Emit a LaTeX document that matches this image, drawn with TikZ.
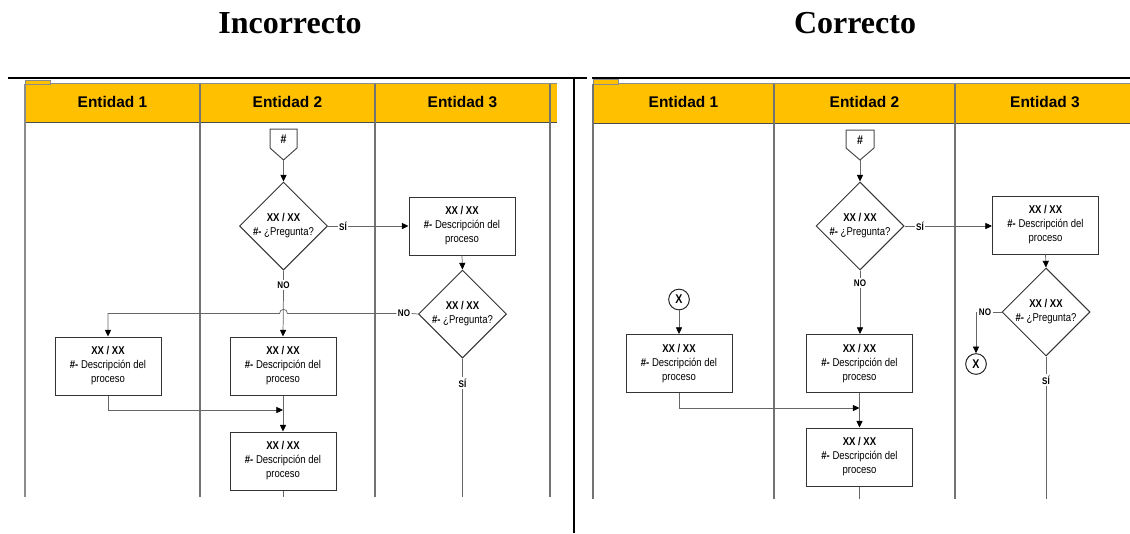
\documentclass[tikz,border=0pt]{standalone}
\usepackage{fontspec}
\setmainfont{Liberation Serif}
\newfontfamily\hdrfont{Liberation Sans}
\newfontfamily\narfont[FakeStretch=0.84]{Liberation Sans}
\usetikzlibrary{shapes.geometric,arrows.meta}
\definecolor{lanegold}{HTML}{FFC000}
\tikzset{
  lanebar/.style={draw=black!55, line width=0.9pt},
  proc/.style={rectangle, draw=black!80, line width=0.75pt, fill=white,
    minimum width=79.5pt, minimum height=43.5pt, inner sep=0pt, align=center,
    font=\narfont\fontsize{8.5}{10.5}\selectfont},
  dec/.style={diamond, draw=black!80, line width=0.75pt, fill=white,
    minimum size=66pt, inner sep=0pt, aspect=1},
  dtext/.style={align=center, inner sep=0pt, font=\narfont\fontsize{8.5}{10.5}\selectfont},
  conn/.style={circle, draw=black!85, line width=0.75pt, fill=white,
    minimum size=15.5pt, inner sep=0pt, font=\narfont\bfseries\fontsize{9.5}{10}\selectfont},
  lbl/.style={inner sep=1pt, font=\narfont\bfseries\fontsize{7.2}{8}\selectfont},
  flow/.style={draw=black!60, line width=0.55pt},
  flowar/.style={flow, -{Triangle[length=5pt,width=4.6pt,color=black]}},
  hdr/.style={font=\hdrfont\bfseries\fontsize{11.6}{13}\selectfont},
  ttl/.style={font=\bfseries\fontsize{24}{28}\selectfont},
}
\begin{document}
\begin{tikzpicture}[x=0.75pt,y=-0.75pt]
\useasboundingbox (0,0) rectangle (1130,533);

% titles
\node[ttl] (t1) at (290,23.5) {Incorrecto};
\node[ttl] (t2) at (855,23.5) {Correcto};

% frame lines
\draw[line width=1.5pt] (8,78) -- (587,78);
\draw[line width=1.1pt] (592,78) -- (1130,78);
\draw[line width=1.2pt] (574,78) -- (574,533);

% ---------- left swimlane ----------
\fill[lanegold] (25,84) rectangle (557,122);
\filldraw[fill=lanegold, draw=black!45, line width=0.4pt] (25,80) rectangle (50,84);
\draw[black!45, line width=0.5pt] (50,83.5) -- (557,83.5);
\draw[black!70, line width=0.6pt] (25,122) -- (557,122);
\draw[lanebar, draw=black!45] (25,84) -- (25,497);
\foreach \xx in {200,375,550} \draw[lanebar] (\xx,84) -- (\xx,497);
\node[hdr] (h1) at (112.5,102) {Entidad 1};
\node[hdr] (h2) at (287.5,102) {Entidad 2};
\node[hdr] (h3) at (462.5,102) {Entidad 3};

% off-page marker
\node[font=\narfont\bfseries\fontsize{9.5}{10}\selectfont, inner sep=0pt] (p1) at (283.5,139.5) {\#};
\draw[draw=black!70, line width=0.75pt] (270,129) -- (297,129) -- (297,148) -- (283.5,160) -- (270,148) -- cycle;
\coordinate (p1tip) at (283.5,160);

\node[dec] (d1) at (283.5,226) {};
\node[dtext] (d1t) at (d1) {\textbf{XX / XX}\\\textbf{\#-} ¿Pregunta?};
\node[proc] (b4) at (462,226) {\textbf{XX / XX}\\\textbf{\#-} Descripción del\\proceso};
\node[dec] (d2) at (462.5,314) {};
\node[dtext] (d2t) at (d2) {\textbf{XX / XX}\\\textbf{\#-} ¿Pregunta?};
\node[proc] (b1) at (108,366) {\textbf{XX / XX}\\\textbf{\#-} Descripción del\\proceso};
\node[proc] (b2) at (283,366) {\textbf{XX / XX}\\\textbf{\#-} Descripción del\\proceso};
\node[proc] (b3) at (283,461) {\textbf{XX / XX}\\\textbf{\#-} Descripción del\\proceso};

\node[lbl] (si1) at (343,226) {SÍ};
\node[lbl] (no1) at (283.5,285) {NO};
\node[lbl] (no2) at (404,313.5) {NO};
\node[lbl] (si2) at (462.5,383) {SÍ};
\coordinate (m1) at (283,410);
\coordinate (end1) at (283,497);
\coordinate (end2) at (462.5,497);

\draw[flowar] (p1tip) -- (d1.north);
\draw[flow] (d1.east) -- (si1.west);
\draw[flowar] (si1.east) -- (si1.east -| b4.west);
\draw[flowar] (b4.south) -- (d2.north);
\draw[flow] (d1.south) -- (no1.north);
\draw[flowar] (no1.south) -- (b2.north);
\draw[flow] (d2.west) -- (no2.east);
\draw[flowar] (no2.west) -- (287.5,313.5) .. controls (287.5,308) and (279.5,308) .. (279.5,313.5)
  -- (108,313.5) -- (b1.north);
\draw[flowar] (b1.south) |- (m1);
\draw[flowar] (b2.south) -- (b3.north);
\draw[flow] (b3.south) -- (end1);
\draw[flow] (d2.south) -- (si2.north);
\draw[flow] (si2.south) -- (end2);

% ---------- right swimlane ----------
\fill[lanegold] (593,84) rectangle (1130,123);
\filldraw[fill=lanegold, draw=black!45, line width=0.4pt] (593,79) rectangle (618,84);
\draw[black!45, line width=0.5pt] (618,83.5) -- (1130,83.5);
\draw[black!70, line width=0.6pt] (593,123) -- (1130,123);
\foreach \xx in {593,774,955} \draw[lanebar] (\xx,84) -- (\xx,499);
\node[hdr] (k1) at (683.5,102) {Entidad 1};
\node[hdr] (k2) at (864.5,102) {Entidad 2};
\node[hdr] (k3) at (1045,102) {Entidad 3};

\node[font=\narfont\bfseries\fontsize{9.5}{10}\selectfont, inner sep=0pt] (q1) at (860,140) {\#};
\draw[draw=black!70, line width=0.75pt] (846,130) -- (874,130) -- (874,148) -- (860,160) -- (846,148) -- cycle;
\coordinate (q1tip) at (860,160);

\node[dec] (e1) at (860,226) {};
\node[dtext] (e1t) at (e1) {\textbf{XX / XX}\\\textbf{\#-} ¿Pregunta?};
\node[proc] (c4) at (1045.5,225) {\textbf{XX / XX}\\\textbf{\#-} Descripción del\\proceso};
\node[dec] (e2) at (1046,312) {};
\node[dtext] (e2t) at (e2) {\textbf{XX / XX}\\\textbf{\#-} ¿Pregunta?};
\node[proc] (c1) at (679,363.5) {\textbf{XX / XX}\\\textbf{\#-} Descripción del\\proceso};
\node[proc] (c2) at (859.5,363.5) {\textbf{XX / XX}\\\textbf{\#-} Descripción del\\proceso};
\node[proc] (c3) at (859.5,457) {\textbf{XX / XX}\\\textbf{\#-} Descripción del\\proceso};
\node[conn] (x1) at (679,299.5) {X};
\node[conn] (x2) at (976,364) {X};

\node[lbl] (si3) at (920,226) {SÍ};
\node[lbl] (no3) at (860,283) {NO};
\node[lbl] (no4) at (985,312) {NO};
\node[lbl] (si4) at (1046,380) {SÍ};
\coordinate (m2) at (859.5,408);
\coordinate (end3) at (859.5,499);
\coordinate (end4) at (1046,499);

\draw[flowar] (q1tip) -- (e1.north);
\draw[flow] (e1.east) -- (si3.west);
\draw[flowar] (si3.east) -- (si3.east -| c4.west);
\draw[flowar] (c4.south) -- (e2.north);
\draw[flow] (e1.south) -- (no3.north);
\draw[flowar] (no3.south) -- (no3.south |- c2.north);
\draw[flow] (e2.west) -- (no4.east);
\draw[flowar] (no4.west) -| (x2.north);
\draw[flowar] (x1.south) -- (c1.north);
\draw[flowar] (c1.south) |- (m2);
\draw[flowar] (c2.south) -- (c3.north);
\draw[flow] (c3.south) -- (end3);
\draw[flow] (e2.south) -- (si4.north);
\draw[flow] (si4.south) -- (end4);
\end{tikzpicture}
\end{document}
